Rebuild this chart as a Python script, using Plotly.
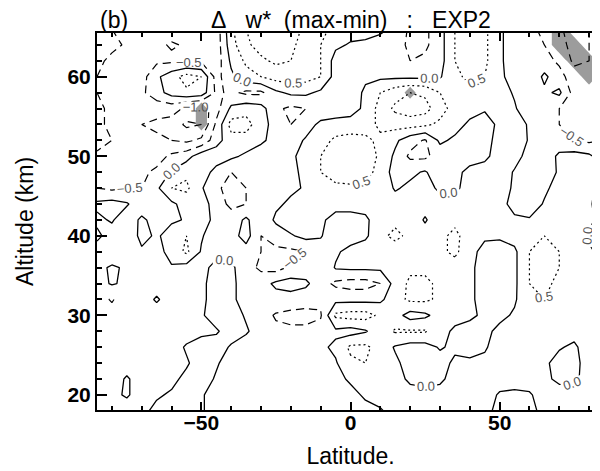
import plotly.graph_objects as go

# Latitude columns (deg) and altitude rows (km, top to bottom)
lat = [-85, -80, -75, -70, -65, -60, -55, -50, -45, -40, -35, -30, -25, -20, -15, -10, -5, 0, 5, 10,
       15, 20, 25, 30, 35, 40, 45, 50, 55, 60, 65, 70, 75, 80, 85]
alt = [66, 64, 62, 60, 58, 56, 54, 52, 50, 48, 46, 44, 42, 40, 38, 36, 34, 32, 30, 28, 26, 24, 22, 20, 18]

# Delta w* (max-min), rows follow alt, columns follow lat
dw = [
    [-0.3,-0.5,-0.7,-0.6,-0.6,-0.7,-0.6,-0.7,-0.8,0.4, 1.0,1.3,1.4,1.2,0.9,0.6,0.4,0.2,0.2,0.1, -0.1,-0.6,-0.6,-0.2,0.5,0.7,0.6,0.1,-0.3,-0.4, -0.6,-0.9,-1.3,-1.0,-0.8],
    [-0.3,-0.4,-0.55,-0.6,-0.6,-0.45,-0.55,-0.5,-0.8,0.3, 0.9,1.2,1.3,1.1,0.8,0.5,0.1,-0.05,-0.1,-0.2, -0.3,-0.6,-0.6,-0.2,0.5,0.8,0.6,0.1,-0.3,-0.4, -0.5,-0.8,-1.2,-1.0,-0.8],
    [-0.4,-0.6,-0.6,-0.7,-0.6,-0.6,-0.6,-0.6,-0.8,0.1, 0.6,0.9,1.1,1.0,0.8,0.5,-0.2,-0.3,-0.3,-0.3, -0.4,-0.5,-0.4,-0.2,0.5,0.8,0.6,0.1,-0.3,-0.5, -0.3,-0.6,-1.1,-1.0,-0.8],
    [-0.5,-0.6,-0.6,-0.7,-0.1,0.3,0.7,0.5,-0.7,-0.1, 0.3,0.5,0.7,0.8,0.7,0.5,-0.2,-0.2,-0.1,-0.1, -0.1,-0.1,-0.1,-0.05,0.4,0.6,0.5,0.1,-0.2,-0.4, 0.1,-0.3,-0.8,-0.9,-0.8],
    [-0.5,-0.6,-0.7,-0.6,-0.2,0.2,0.4,0.3,-0.6,-0.4, -0.6,-0.6,-0.1,0.1,0.1,-0.1,-0.3,-0.3,0.1,0.5, 0.8,1.0,0.9,0.5,0.3,0.4,0.3,0.2,-0.05,-0.4, -0.1,0.1,-0.7,-1.0,-0.8],
    [-0.4,-0.6,-0.8,-0.9,-0.8,-0.8,-1.1,-1.3,-0.7,0.1, 0.3,0.2,-0.4,-0.6,-0.5,-0.3,-0.3,-0.2,0.1,0.7, 1.1,1.3,1.2,0.7,0.3,0.2,0.05,0.1,0.05,-0.3, -0.4,-0.5,-0.6,-0.7,-0.8],
    [-0.4,-0.6,-0.8,-1.0,-1.1,-1.2,-1.6,-1.5,-0.4,0.7, 0.7,0.2,-0.2,-0.5,-0.2,0.1,0.2,0.2,0.3,0.6, 0.7,0.7,0.6,0.4,0.2,-0.1,-0.2,0.1,0.2,-0.05, -0.4,-0.5,-0.6,-0.6,-0.7],
    [-0.3,-0.5,-0.7,-0.8,-0.9,-1.0,-1.1,-0.9,-0.2,0.3, 0.3,0.1,-0.2,-0.2,0.05,0.3,0.6,0.7,0.6,0.4, 0.1,-0.3,-0.55,0.1,-0.1,-0.3,-0.2,0.2,0.3,-0.05, -0.3,-0.3,-0.5,-0.6,-0.5],
    [-0.6,-0.6,-0.7,-0.7,-0.7,-0.4,-0.2,0.3,0.3,0.1, -0.1,-0.3,-0.3,-0.1,0.2,0.5,0.8,0.9,0.8,0.4, -0.1,-0.6,-0.6,-0.3,-0.3,-0.3,-0.1,0.2,0.2,-0.2, -0.3,0.1,0.2,0.1,-0.3],
    [-0.5,-0.6,-0.6,-0.6,-0.4,0.05,0.4,0.3,-0.2,-0.5, -0.4,-0.3,-0.1,-0.1,0.1,0.5,0.7,0.8,0.7,0.3, -0.2,-0.1,0.05,-0.3,-0.2,0.2,0.2,0.3,-0.05,-0.3, -0.4,0.1,0.3,0.2,-0.2],
    [-0.5,-0.6,-0.5,-0.5,-0.1,0.5,0.6,0.05,-0.4,-0.7, -0.5,-0.3,-0.2,-0.1,0.05,0.4,0.4,0.4,0.4,0.3, -0.05,0.1,0.2,-0.1,-0.1,0.2,0.3,0.3,-0.1,-0.4, -0.1,0.2,0.3,0.1,-0.2],
    [0.1,0.2,0.05,-0.3,-0.3,-0.1,0.2,0.3,-0.3,-0.6, -0.5,-0.3,-0.1,0.1,0.3,0.3,0.2,0.2,0.2,0.1, 0.2,0.3,0.2,0.2,0.2,0.3,0.3,0.2,-0.2,-0.3, 0.05,0.3,0.3,0.05,-0.2],
    [-0.1,0.05,-0.3,0.1,-0.2,-0.1,0.05,0.3,-0.2,-0.3, 0.1,-0.4,0.1,0.3,0.3,0.1,-0.2,-0.2,-0.1,0.3, 0.4,0.3,-0.05,0.3,0.4,0.3,0.2,0.2,0.1,0.05, 0.2,0.3,0.3,0.1,-0.2],
    [0.1,-0.2,-0.5,0.2,-0.1,0.3,0.5,0.05,-0.3,-0.2, 0.2,-0.5,-0.3,-0.05,0.15,0.05,-0.4,-0.3,-0.1,0.4, 0.6,0.4,0.2,0.4,0.6,0.3,0.1,0.1,0.2,0.4, 0.5,0.4,0.2,-0.05,-0.2],
    [-0.2,-0.5,-0.3,-0.1,-0.2,0.2,0.6,-0.05,-0.2,-0.1, -0.2,-0.5,-0.6,-0.6,-0.5,-0.3,-0.1,0.2,0.3,0.4, 0.3,0.2,0.3,0.4,0.6,0.2,-0.2,-0.3,-0.1,0.5, 0.7,0.5,0.2,0.05,-0.1],
    [-0.2,0.1,-0.1,-0.2,-0.1,-0.05,-0.2,-0.2,0.2,0.1, -0.3,-0.6,-0.7,-0.4,-0.3,-0.5,0.05,0.1,0.1,0.1, 0.3,0.4,0.4,0.3,0.3,0.1,-0.2,-0.5,-0.1,0.5, 0.7,0.5,0.2,0.1,-0.05],
    [-0.2,0.05,-0.1,-0.2,-0.2,-0.2,-0.2,-0.1,0.2,0.1, -0.2,-0.2,0.1,0.2,0.1,-0.3,-0.6,-0.7,-0.7,-0.5, 0.2,0.6,0.6,0.4,0.1,0.1,-0.2,-0.4,-0.1,0.5, 0.6,0.4,0.2,0.2,0.1],
    [-0.3,-0.55,-0.2,-0.2,0.05,-0.2,-0.2,-0.1,0.2,0.1, -0.2,-0.3,-0.2,-0.2,-0.3,-0.4,-0.15,-0.15,-0.15,-0.1, 0.3,0.6,0.6,0.4,0.05,0.1,-0.2,-0.3,-0.05,0.3, 0.5,0.3,0.2,0.2,0.2],
    [-0.3,-0.3,-0.2,-0.2,-0.2,-0.2,-0.2,-0.05,0.2,0.2, -0.05,-0.3,-0.55,-0.65,-0.65,-0.55,0.6,0.7,0.7,0.4, 0.2,-0.2,-0.1,0.2,0.2,0.1,-0.1,-0.1,0.05,0.2, 0.3,0.2,0.2,0.2,0.2],
    [-0.3,-0.2,-0.2,-0.2,-0.2,-0.2,-0.2,-0.1,-0.05,0.2, 0.05,-0.2,-0.4,-0.4,-0.4,-0.3,-0.1,-0.2,-0.05,0.3, 0.55,0.55,0.55,0.2,-0.1,-0.2,-0.1,0.1,0.2,0.2, 0.2,0.2,0.2,0.3,0.4],
    [-0.3,-0.2,-0.2,-0.2,-0.2,-0.2,0.05,0.2,0.2,-0.05, -0.2,-0.2,-0.2,-0.2,-0.2,-0.1,0.1,0.6,0.6,0.3, -0.05,-0.2,-0.2,0.05,-0.1,-0.2,-0.05,0.2,0.2,0.2, 0.2,0.05,-0.1,0.3,0.5],
    [-0.2,-0.2,-0.2,-0.2,-0.2,-0.2,-0.05,0.2,0.05,-0.2, -0.2,-0.2,-0.2,-0.2,-0.2,-0.2,-0.05,0.4,0.5,0.3, 0.1,-0.2,-0.3,-0.2,0.1,0.1,0.1,0.2,0.2,0.2, 0.1,-0.2,-0.2,0.3,0.5],
    [-0.2,-0.2,0.05,-0.2,-0.2,-0.1,0.1,0.2,-0.05,-0.2, -0.2,-0.2,-0.2,-0.2,-0.2,-0.2,-0.1,0.05,0.2,0.2, 0.2,-0.1,-0.2,-0.1,0.2,0.2,0.2,0.2,0.2,0.2, 0.1,-0.1,-0.1,0.2,0.3],
    [-0.2,-0.1,0.05,-0.2,-0.05,0.05,0.2,0.05,-0.2,-0.2, -0.2,-0.2,-0.2,-0.2,-0.2,-0.2,-0.2,-0.1,0.05,0.2, 0.2,0.2,0.2,0.2,0.2,0.2,0.2,-0.05,-0.1,-0.05, 0.2,0.2,0.2,0.2,0.2],
    [-0.2,-0.2,-0.2,-0.1,0.1,0.2,0.2,0.05,-0.2,-0.2, -0.2,-0.2,-0.2,-0.2,-0.2,-0.2,-0.2,-0.2,-0.1,-0.05, 0.2,0.2,0.2,0.2,0.2,0.2,0.1,-0.1,-0.2,-0.1, 0.1,0.2,0.2,0.2,0.2],
]

# Grid points flagged as significant (gray shading)
sig_lat = [70, 70, 75, 75, 80, 80, 20, -50, -50]
sig_alt = [66, 64, 64, 62, 62, 60, 58, 54, 56]
sig_val = [1.0, 1.0, 1.0, 1.0, 1.0, 1.0, 0.8, 0.8, 0.8]

xticks = [-50, 0, 50]
NB = "\u00a0"
title_txt = "\u0394" + NB * 3 + "w*" + NB * 2 + "(max-min)" + NB * 3 + ":" + NB * 3 + "EXP2"
panel_txt = "(b)"

mask = [[0.0 for _ in lat] for _ in alt]
for la, al, v in zip(sig_lat, sig_alt, sig_val):
    mask[alt.index(al)][lat.index(la)] = v

alt_r = alt[::-1]
dw_r = dw[::-1]
mask_r = mask[::-1]

FONT = "Liberation Sans, Arial, sans-serif"
lab_font = dict(family=FONT, size=13, color="#555555")

fig = go.Figure()
# constraint contours shade the excluded side, so '<' shades where mask > 0.5
fig.add_trace(go.Contour(
    x=lat, y=alt_r, z=mask_r,
    contours=dict(type="constraint", operation="<", value=0.5),
    fillcolor="#9c9c9c", line=dict(width=0, color="#9c9c9c", smoothing=0),
    showscale=False, hoverinfo="skip"))

common = dict(x=lat, y=alt_r, z=dw_r, showscale=False, hoverinfo="skip", autocontour=False)
fig.add_trace(go.Contour(
    **common,
    contours=dict(start=-3.0, end=-0.5, size=0.5, coloring="none",
                  showlabels=True, labelfont=lab_font, labelformat=".1f"),
    line=dict(color="black", width=1.2, dash="8px,5px", smoothing=0)))
fig.add_trace(go.Contour(
    **common,
    contours=dict(start=0.0, end=0.0001, size=1.0, coloring="none",
                  showlabels=True, labelfont=lab_font, labelformat=".1f"),
    line=dict(color="black", width=1.3, smoothing=0)))
fig.add_trace(go.Contour(
    **common,
    contours=dict(start=0.5, end=3.0, size=0.5, coloring="none",
                  showlabels=True, labelfont=lab_font, labelformat=".1f"),
    line=dict(color="black", width=1.2, dash="2px,3px", smoothing=0)))

tickfont = dict(family=FONT, size=21, color="black", weight="bold")
fig.update_xaxes(
    range=[-85, 85], tickvals=xticks, ticks="inside", ticklen=8, tickwidth=1.5,
    minor=dict(dtick=10, tick0=0, ticks="inside", ticklen=4, tickwidth=1.5, tickcolor="black"),
    showline=True, linewidth=2, linecolor="black", mirror="ticks", tickcolor="black",
    showgrid=False, zeroline=False, tickfont=tickfont, ticklabelstandoff=-7,
    title=dict(text="Latitude.", font=dict(family=FONT, size=23, color="black"), standoff=15))
fig.update_yaxes(
    range=[18.1, 65.5], tick0=0, dtick=10, ticks="inside", ticklen=10, tickwidth=1.5,
    minor=dict(dtick=2, tick0=0, ticks="inside", ticklen=5, tickwidth=1.5, tickcolor="black"),
    showline=True, linewidth=2, linecolor="black", mirror="ticks", tickcolor="black",
    showgrid=False, zeroline=False, tickfont=tickfont,
    title=dict(text="Altitude (km)", font=dict(family=FONT, size=23, color="black"), standoff=27))

fig.add_annotation(text=title_txt, x=0.5, y=1, xref="paper", yref="paper",
                   xanchor="center", yanchor="bottom", showarrow=False, yshift=-2,
                   font=dict(family=FONT, size=23, color="black"))
fig.add_annotation(text=panel_txt, x=0, y=1, xref="paper", yref="paper",
                   xanchor="left", yanchor="bottom", showarrow=False, yshift=-2, xshift=1,
                   font=dict(family=FONT, size=23, color="black"))

fig.update_layout(width=600, height=471, margin=dict(l=89, r=2, t=25, b=69),
                  paper_bgcolor="white", plot_bgcolor="white", showlegend=False)
fig.write_html("out.html")
